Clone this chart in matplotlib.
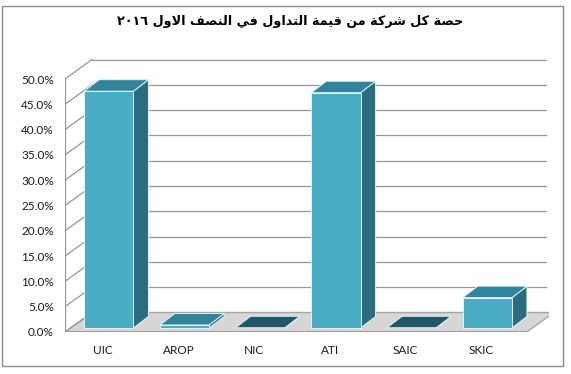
import matplotlib
matplotlib.use("Agg")
import matplotlib.pyplot as plt
from matplotlib.patches import Polygon, Rectangle
from matplotlib.ticker import PercentFormatter

companies = ["UIC", "AROP", "NIC", "ATI", "SAIC", "SKIC"]
shares = [46.8, 0.6, 0.05, 46.5, 0.05, 6.0]
y_ticks = [0, 5, 10, 15, 20, 25, 30, 35, 40, 45, 50]
title_text = "حصة كل شركة من قيمة التداول في النصف الاول ٢٠١٦"

# arabic shaping (matplotlib has no text layout engine for arabic)
FORMS = {
    "ا": (0xFE8D, 0xFE8E, None, None),
    "ة": (0xFE93, 0xFE94, None, None),
    "ت": (0xFE95, 0xFE96, 0xFE97, 0xFE98),
    "ح": (0xFEA1, 0xFEA2, 0xFEA3, 0xFEA4),
    "د": (0xFEA9, 0xFEAA, None, None),
    "ر": (0xFEAD, 0xFEAE, None, None),
    "ش": (0xFEB5, 0xFEB6, 0xFEB7, 0xFEB8),
    "ص": (0xFEB9, 0xFEBA, 0xFEBB, 0xFEBC),
    "ف": (0xFED1, 0xFED2, 0xFED3, 0xFED4),
    "ق": (0xFED5, 0xFED6, 0xFED7, 0xFED8),
    "ك": (0xFED9, 0xFEDA, 0xFEDB, 0xFEDC),
    "ل": (0xFEDD, 0xFEDE, 0xFEDF, 0xFEE0),
    "م": (0xFEE1, 0xFEE2, 0xFEE3, 0xFEE4),
    "ن": (0xFEE5, 0xFEE6, 0xFEE7, 0xFEE8),
    "و": (0xFEED, 0xFEEE, None, None),
    "ي": (0xFEF1, 0xFEF2, 0xFEF3, 0xFEF4),
    "لا": (0xFEFB, 0xFEFC, None, None),
}


def joins_next(ch):
    return ch in FORMS and FORMS[ch][2] is not None


def shape_arabic(text):
    units = []
    i = 0
    while i < len(text):
        if text[i] == "ل" and i + 1 < len(text) and text[i + 1] == "ا":
            units.append("لا")
            i += 2
        else:
            units.append(text[i])
            i += 1
    out = []
    for k, u in enumerate(units):
        if u not in FORMS:
            out.append(u)
            continue
        prev_j = k > 0 and joins_next(units[k - 1])
        next_j = joins_next(u) and k + 1 < len(units) and units[k + 1] in FORMS
        iso, fin, ini, med = FORMS[u]
        if prev_j and next_j:
            code = med
        elif prev_j:
            code = fin
        elif next_j:
            code = ini
        else:
            code = iso
        out.append(chr(code))
    # visual order: reverse, keep digit runs left to right
    rev = "".join(out)[::-1]
    result, run = "", ""
    for ch in rev:
        if "٠" <= ch <= "٩":
            run += ch
        else:
            result += run[::-1] + ch
            run = ""
    return result + run[::-1]


PX_X = 75.7   # pixels per category
PX_Y = 5.06   # pixels per percent
dx, dy = 27 / PX_X, 19.5 / PX_Y            # wall depth
bdx, bdy = 15 / PX_X, 11.5 / PX_Y          # bar depth
ox, oy = (dx - bdx) / 2, (dy - bdy) / 2
bar_w = 0.65

front = "#4bacc6"
top_c = "#31849b"
side_c = "#2c6c7f"
flat_c = "#215867"
grid_c = "#969696"

W, H = 571, 374
fig = plt.figure(figsize=(W / 100, H / 100), dpi=100)
fig.add_artist(Rectangle((2 / W, 1 - 366 / H), 561 / W, 360 / H,
                         transform=fig.transFigure, fill=False,
                         edgecolor="#8a8a8a", lw=1))

n = len(companies)
xmax, ymax = 6.4, 55
ax = fig.add_axes([65 / W, (H - 332) / H, xmax * PX_X / W, ymax * PX_Y / H])
ax.set_xlim(0, xmax)
ax.set_ylim(0, ymax)
for s in ax.spines.values():
    s.set_visible(False)

# floor
ax.add_patch(Polygon([(0, 0), (n + 0.1, 0), (n + 0.1 + dx, dy), (dx, dy)],
                     closed=True, facecolor="#d6d6d6", edgecolor="#a6a6a6",
                     lw=1, zorder=1))

# walls and gridlines
for v in y_ticks:
    ax.plot([0, dx], [v, v + dy], color=grid_c, lw=0.9, zorder=2)
    if v > 0:
        ax.plot([dx, n + dx], [v + dy, v + dy], color=grid_c, lw=0.9, zorder=2)
ax.plot([0, 0], [0, y_ticks[-1]], color=grid_c, lw=0.9, zorder=2)
ax.plot([0, n + 0.1], [0, 0], color=grid_c, lw=1.2, zorder=2)

# 3d bars
for i, val in enumerate(shares):
    x0 = i + (1 - bar_w) / 2 + ox
    x1 = x0 + bar_w
    y0 = oy
    y1 = oy + val
    ec = "#dff2f7"
    ax.add_patch(Polygon([(x1, y0), (x1 + bdx, y0 + bdy), (x1 + bdx, y1 + bdy), (x1, y1)],
                         facecolor=side_c, edgecolor=ec, lw=0.7, zorder=3))
    tc = top_c if val > 0.3 else flat_c
    ax.add_patch(Polygon([(x0, y1), (x1, y1), (x1 + bdx, y1 + bdy), (x0 + bdx, y1 + bdy)],
                         facecolor=tc, edgecolor=ec, lw=0.7, zorder=3))
    if val > 0.3:
        ax.add_patch(Rectangle((x0, y0), bar_w, val, facecolor=front,
                               edgecolor=ec, lw=0.7, zorder=4))

ax.set_yticks(y_ticks)
ax.yaxis.set_major_formatter(PercentFormatter(decimals=1))
ax.set_xticks([i + 0.5 for i in range(n)])
ax.set_xticklabels(companies)
ax.tick_params(axis="both", length=0, labelsize=8.5, colors="#1a1a1a")
ax.tick_params(axis="y", pad=8)
ax.tick_params(axis="x", pad=9)
for lab in ax.get_xticklabels() + ax.get_yticklabels():
    lab.set_family(["Lato", "DejaVu Sans"])

fig.text(0.508, 1 - 21 / H, shape_arabic(title_text), ha="center", va="center",
         fontsize=9.2, fontweight="bold", family=["DejaVu Sans"])

fig.savefig("out.png", dpi=100)
